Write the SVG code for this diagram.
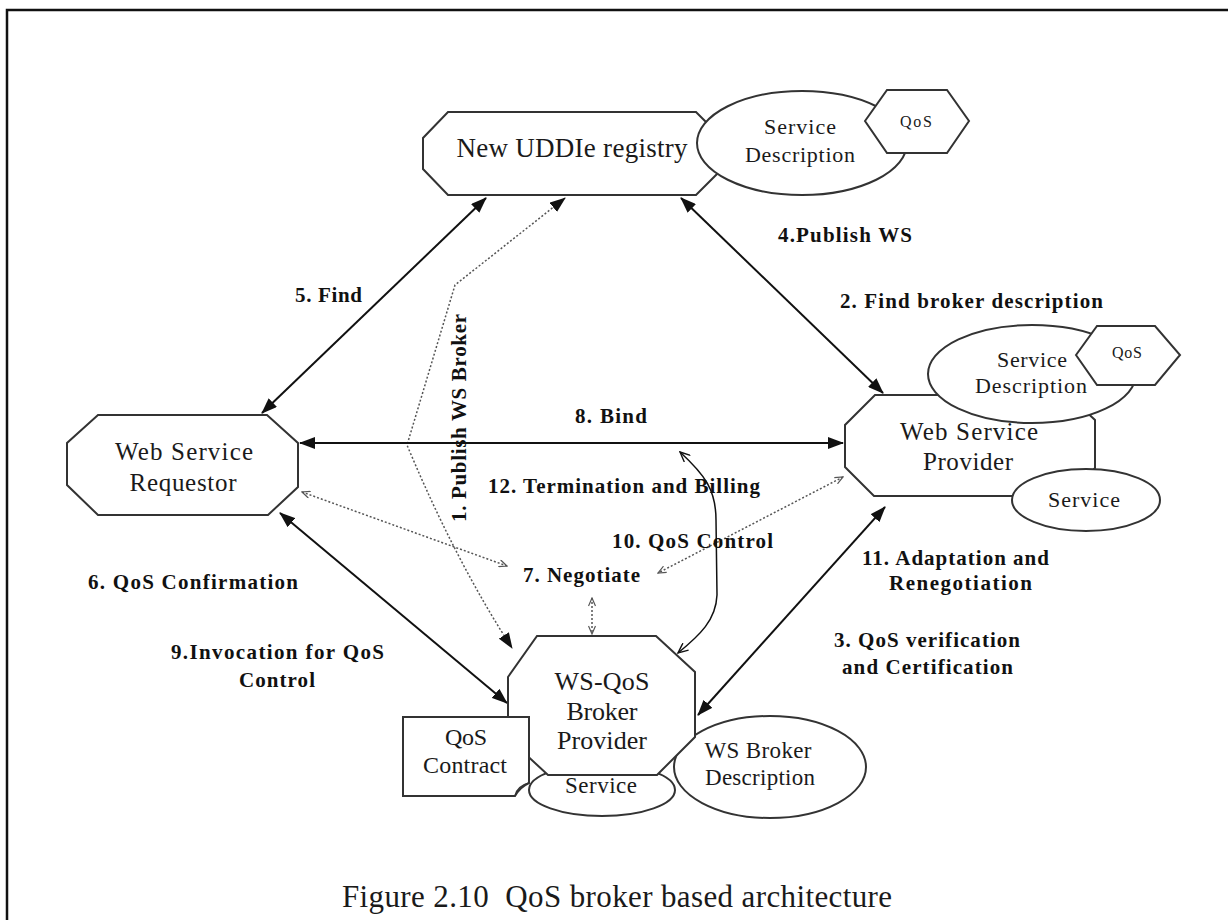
<svg xmlns="http://www.w3.org/2000/svg" width="1228" height="920" viewBox="0 0 1228 920">
  <defs>
    <style>
      .node { fill:#fff; stroke:#333; stroke-width:2; }
      .lbl { font-family:"Liberation Serif", serif; fill:#1a1a1a; text-anchor:middle; }
      .bl { font-family:"Liberation Serif", serif; font-weight:bold; font-size:21px; fill:#111; }
      .solid { stroke:#111; stroke-width:2; fill:none; }
      .dot { stroke:#555; stroke-width:1.5; stroke-dasharray:2 2; fill:none; }
      .thin { stroke:#111; stroke-width:1.5; fill:none; }
    </style>
    <marker id="ah" viewBox="0 0 16 12" refX="15" refY="6" markerWidth="16" markerHeight="12" markerUnits="userSpaceOnUse" orient="auto-start-reverse">
      <path d="M0,0 L16,6 L0,12 Z" fill="#111"/>
    </marker>
    <marker id="ahs" viewBox="0 0 10 8" refX="9" refY="4" markerWidth="10" markerHeight="8" markerUnits="userSpaceOnUse" orient="auto-start-reverse">
      <path d="M1,0.5 L9,4 L1,7.5" fill="none" stroke="#555" stroke-width="1.2"/>
    </marker>
    <marker id="ahv" viewBox="0 0 12 10" refX="11" refY="5" markerWidth="12" markerHeight="10" markerUnits="userSpaceOnUse" orient="auto-start-reverse">
      <path d="M1,0.5 L11,5 L1,9.5" fill="none" stroke="#111" stroke-width="1.4"/>
    </marker>
  </defs>

  <rect width="1228" height="920" fill="#fff"/>
  <!-- page frame: top and left rules only -->
  <path d="M7,920 V10 H1228" fill="none" stroke="#111" stroke-width="2.5"/>

  <!-- connectors -->
  <g id="connectors">
    <line id="c-find" class="solid" x1="486" y1="198" x2="262" y2="413" marker-start="url(#ah)" marker-end="url(#ah)"/>
    <line id="c-publish-ws" class="solid" x1="681" y1="198" x2="883" y2="393" marker-start="url(#ah)" marker-end="url(#ah)"/>
    <path id="c-publish-broker" class="dot" d="M565,198 L455,285 L407,445 Q455,560 512,648" marker-start="url(#ah)" marker-end="url(#ah)"/>
    <line id="c-bind" class="solid" x1="300" y1="443" x2="843" y2="443" marker-start="url(#ah)" marker-end="url(#ah)"/>
    <line id="c-neg-req" class="dot" x1="302" y1="492" x2="507" y2="566" marker-start="url(#ahs)" marker-end="url(#ahs)"/>
    <line id="c-qos-control" class="dot" x1="843" y1="477" x2="658" y2="573" marker-start="url(#ahs)" marker-end="url(#ahs)"/>
    <line id="c-neg-broker" class="dot" x1="592" y1="598" x2="592" y2="634" marker-start="url(#ahs)" marker-end="url(#ahs)"/>
    <path id="c-termination" class="thin" d="M680,452 C705,475 716,490 716,520 L717,595 C716,620 700,635 678,653" marker-start="url(#ahv)" marker-end="url(#ahv)"/>
    <line id="c-verify" class="solid" x1="885" y1="507" x2="698" y2="715" marker-start="url(#ah)" marker-end="url(#ah)"/>
    <line id="c-confirm" class="solid" x1="280" y1="513" x2="507" y2="703" marker-start="url(#ah)" marker-end="url(#ah)"/>
  </g>

  <!-- connector labels -->
  <g id="labels">
    <text class="bl" x="778" y="242" textLength="134">4.Publish WS</text>
    <text class="bl" x="295" y="302" textLength="67">5. Find</text>
    <text class="bl" x="840" y="308" textLength="263">2. Find broker description</text>
    <text class="bl" x="575" y="423" textLength="72">8. Bind</text>
    <text class="bl" x="488" y="493" textLength="272">12. Termination and Billing</text>
    <text class="bl" x="612" y="548" textLength="161">10. QoS Control</text>
    <text class="bl" x="523" y="582" textLength="117">7. Negotiate</text>
    <text class="bl" x="862" y="565" textLength="187">11. Adaptation and</text>
    <text class="bl" x="889" y="590" textLength="143">Renegotiation</text>
    <text class="bl" x="88" y="589" textLength="210">6. QoS Confirmation</text>
    <text class="bl" x="171" y="659" textLength="213">9.Invocation for QoS</text>
    <text class="bl" x="239" y="687" textLength="76">Control</text>
    <text class="bl" x="834" y="647" textLength="186">3. QoS verification</text>
    <text class="bl" x="842" y="674" textLength="171">and Certification</text>
    <text class="bl" transform="translate(466,418) rotate(-90)" text-anchor="middle" textLength="208">1. Publish WS Broker</text>
  </g>

  <!-- registry -->
  <g id="registry">
    <polygon class="node" points="448,112 696,112 722,138 722,169 696,195 448,195 423,169 423,138"/>
    <text class="lbl" x="572" y="157" font-size="27" textLength="231">New UDDIe registry</text>
    <ellipse class="node" cx="802" cy="143" rx="105" ry="52"/>
    <text class="lbl" x="800" y="134" font-size="22" textLength="72">Service</text>
    <text class="lbl" x="800" y="162" font-size="22" textLength="110">Description</text>
    <polygon class="node" points="865,121 887,90 947,90 969,121 947,153 887,153"/>
    <text class="lbl" x="916" y="127" font-size="16" textLength="32">QoS</text>
  </g>

  <!-- web service requestor -->
  <g id="requestor">
    <polygon class="node" points="98,415 267,415 298,443 298,487 268,515 98,515 67,485 67,443"/>
    <text class="lbl" x="184" y="460" font-size="25" textLength="138">Web Service</text>
    <text class="lbl" x="183" y="491" font-size="25" textLength="107">Requestor</text>
  </g>

  <!-- web service provider -->
  <g id="provider">
    <polygon class="node" points="875,395 1068,395 1095,420 1095,468 1068,496 874,496 845,467 845,425"/>
    <text class="lbl" x="969" y="440" font-size="25" textLength="138">Web Service</text>
    <text class="lbl" x="968" y="470" font-size="25" textLength="90">Provider</text>
    <ellipse class="node" cx="1032" cy="374" rx="104" ry="49"/>
    <text class="lbl" x="1032" y="367" font-size="22" textLength="70">Service</text>
    <text class="lbl" x="1031" y="393" font-size="22" textLength="112">Description</text>
    <polygon class="node" points="1076,355 1097,326 1155,326 1180,355 1155,385 1097,385"/>
    <text class="lbl" x="1127" y="358" font-size="16" textLength="30">QoS</text>
    <ellipse class="node" cx="1086" cy="500" rx="74" ry="31"/>
    <text class="lbl" x="1084" y="507" font-size="22" textLength="72">Service</text>
  </g>

  <!-- WS-QoS broker provider -->
  <g id="broker">
    <ellipse class="node" cx="770" cy="767" rx="96" ry="51"/>
    <text class="lbl" x="758" y="758" font-size="23" textLength="107">WS Broker</text>
    <text class="lbl" x="760" y="785" font-size="23" textLength="110">Description</text>
    <ellipse class="node" cx="602" cy="790" rx="73" ry="26"/>
    <text class="lbl" x="601" y="793" font-size="23" textLength="72">Service</text>
    <polygon class="node" points="537,636 656,636 695,672 695,737 657,775 548,775 508,738 508,677"/>
    <text class="lbl" x="602" y="690" font-size="26" textLength="95">WS-QoS</text>
    <text class="lbl" x="602" y="720" font-size="26" textLength="71">Broker</text>
    <text class="lbl" x="602" y="749" font-size="26" textLength="90">Provider</text>
  </g>

  <!-- QoS contract document -->
  <g id="contract">
    <path class="node" d="M403,717 H529 V783 Q520,787 515,796 H403 Z"/>
    <path d="M515,796 Q517,786 529,783" fill="none" stroke="#333" stroke-width="1.5"/>
    <text class="lbl" x="466" y="745" font-size="24" textLength="42">QoS</text>
    <text class="lbl" x="465" y="773" font-size="24" textLength="84">Contract</text>
  </g>

  <text id="caption" class="lbl" x="617" y="907" font-size="31" textLength="550">Figure 2.10&#160; QoS broker based architecture</text>
</svg>
